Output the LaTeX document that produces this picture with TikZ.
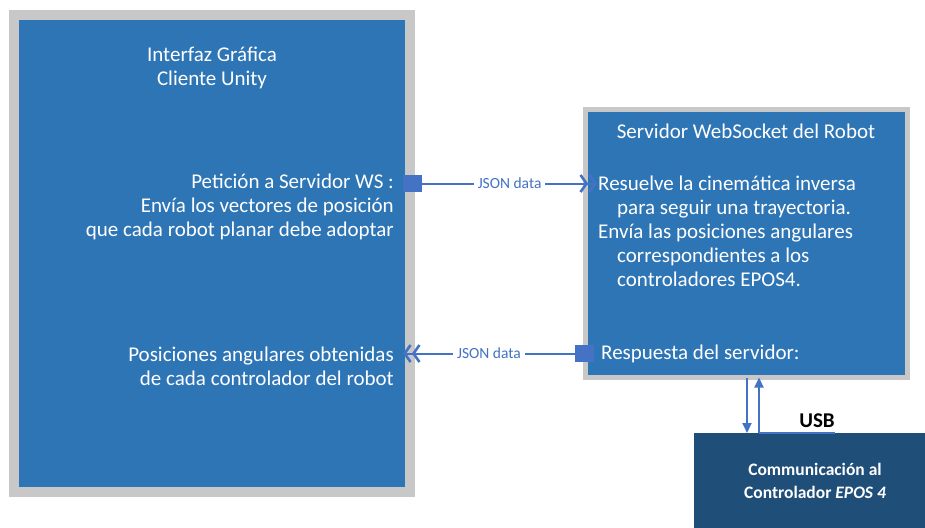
\documentclass[tikz,border=0pt]{standalone}
\usepackage{fontspec}
\setmainfont{Carlito}
\usetikzlibrary{arrows.meta}

\definecolor{boxblue}{HTML}{2E75B6}
\definecolor{boxgray}{HTML}{C8C8C8}
\definecolor{darkblue}{HTML}{1F4E79}
\definecolor{linkblue}{HTML}{4472C4}

\begin{document}
\begin{tikzpicture}[x=1pt, y=-1pt,
  block/.style={fill=boxblue, draw=boxgray, inner sep=0pt},
  txt/.style={text=white, inner sep=0pt, font=\fontsize{21}{24}\selectfont},
  port/.style={fill=linkblue, minimum width=19pt, minimum height=17pt, inner sep=0pt},
  link/.style={draw=linkblue, line width=2pt},
  chev/.style={-{Straight Barb[length=6pt,width=17pt,line width=2.6pt] Straight Barb[length=6pt,width=17pt,line width=2.6pt]}},
  tag/.style={fill=white, text=linkblue, inner sep=4pt, font=\fontsize{15.5}{18}\selectfont}]
  \clip (0,0) rectangle (925,527);
  % blocks
  \node[block, line width=10pt, minimum width=396pt, minimum height=477pt] (gui) at (212,253.5) {};
  \node[block, line width=5pt, minimum width=322pt, minimum height=268pt] (srv) at (746.5,243.5) {};
  \node[fill=darkblue, minimum width=242pt, minimum height=96pt, inner sep=0pt] (epos) at (815,481) {};
  % texts
  \node[txt, align=center] (guititle) at (212,68) {Interfaz Gráfica\\Cliente Unity};
  \node[txt, align=right, anchor=east] (req) at (394,207) {Petición a Servidor WS :\\Envía los vectores de posición\\que cada robot planar debe adoptar};
  \node[txt, align=right, anchor=east] (ang) at (394,366) {Posiciones angulares obtenidas\\de cada controlador del robot};
  \node[txt] (srvtitle) at (746,131) {Servidor WebSocket del Robot};
  \node[txt, align=left, anchor=west] (solve) at (598,231) {Resuelve la cinemática inversa\\\hspace*{19pt}para seguir una trayectoria.\\Envía las posiciones angulares\\\hspace*{19pt}correspondientes a los\\\hspace*{19pt}controladores EPOS4.};
  \node[txt, anchor=west] (resp) at (601,354) {Respuesta del servidor:};
  \node[text=white, font=\fontsize{17.5}{23}\selectfont\bfseries, align=center] (epostxt) at (815,481) {Communicación al\\Controlador \textit{EPOS 4}};
  % connectors
  \node[port] (p1) at (412.5,183.5) {};
  \node[port] (p2) at (584.5,353.5) {};
  \coordinate (in1) at (597,183.5);
  \coordinate (in2) at (403,353.5);
  \draw[link, chev] (p1) -- node[tag] {JSON data} (in1);
  \draw[link, chev] (p2) -- node[tag] {JSON data} (in2);
  \coordinate (dn1) at (747,377.5);
  \coordinate (dn2) at (747,433);
  \coordinate (up1) at (759,433);
  \coordinate (up2) at (759,377.5);
  \coordinate (usb) at (835,433);
  \draw[link, -{Triangle[length=10pt,width=9pt]}] (dn1) -- (dn2);
  \draw[link, -{Triangle[length=10pt,width=9pt]}] (up1) -- (up2);
  \draw[link] (up1) -- (usb);
  \node[font=\fontsize{21}{24}\selectfont\bfseries] (usbtxt) at (817,421) {USB};
\end{tikzpicture}
\end{document}
